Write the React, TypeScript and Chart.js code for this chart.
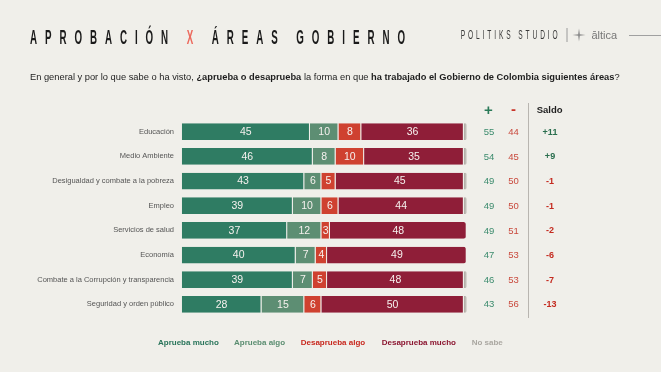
import React, { useEffect, useRef } from 'react';
import { Chart, registerables } from 'chart.js';

Chart.register(...registerables);

const categories = [
  'Educación',
  'Medio Ambiente',
  'Desigualdad y combate a la pobreza',
  'Empleo',
  'Servicios de salud',
  'Economía',
  'Combate a la Corrupción y transparencia',
  'Seguridad y orden público',
];
const apruebaMucho = [45, 46, 43, 39, 37, 40, 39, 28];
const apruebaAlgo = [10, 8, 6, 10, 12, 7, 7, 15];
const desapruebaAlgo = [8, 10, 5, 6, 3, 4, 5, 6];
const desapruebaMucho = [36, 35, 45, 44, 48, 49, 48, 50];
const noSabe = [1, 1, 1, 1, 0, 0, 1, 1];
const totalAprueba = [55, 54, 49, 49, 49, 47, 46, 43];
const totalDesaprueba = [44, 45, 50, 50, 51, 53, 53, 56];
const saldo = ['+11', '+9', '-1', '-1', '-2', '-6', '-7', '-13'];
const seriesNames = ['Aprueba mucho', 'Aprueba algo', 'Desaprueba algo', 'Desaprueba mucho', 'No sabe'];

const barColors = ['#2f7c63', '#5d8e73', '#cf4130', '#8f1e38', '#b3afa8'];
const legendColors = ['#28745a', '#5a8d70', '#c8281e', '#8b1530', '#aaa7a1'];
const BG = '#f0efea';
const SANS = '"Liberation Sans", Arial, sans-serif';

function drawSpacedScaled(
  ctx: CanvasRenderingContext2D,
  text: string,
  x: number,
  y: number,
  targetWidth: number,
  sx: number,
  colors: (i: number) => string
) {
  const chars = [...text];
  const widths = chars.map((c) => ctx.measureText(c).width * sx);
  const total = widths.reduce((a, b) => a + b, 0);
  const gap = (targetWidth - total) / (chars.length - 1);
  let cx = x;
  chars.forEach((c, i) => {
    ctx.save();
    ctx.translate(cx, y);
    ctx.scale(sx, 1);
    ctx.fillStyle = colors(i);
    ctx.fillText(c, 0, 0);
    ctx.restore();
    cx += widths[i] + gap;
  });
}

const decorPlugin = {
  id: 'decor',
  beforeDraw(chart: any) {
    const ctx = chart.ctx as CanvasRenderingContext2D;
    ctx.save();
    ctx.fillStyle = BG;
    ctx.fillRect(0, 0, chart.width, chart.height);
    ctx.restore();
  },
  afterDatasetsDraw(chart: any) {
    const ctx = chart.ctx as CanvasRenderingContext2D;
    const data = [apruebaMucho, apruebaAlgo, desapruebaAlgo, desapruebaMucho];
    ctx.save();
    ctx.font = `10.5px ${SANS}`;
    ctx.fillStyle = '#f6f1ee';
    ctx.textAlign = 'center';
    ctx.textBaseline = 'middle';
    data.forEach((arr, d) => {
      const meta = chart.getDatasetMeta(d);
      meta.data.forEach((bar: any, i: number) => {
        const v = arr[i];
        if (!v) return;
        const p = bar.getProps(['x', 'base', 'y'], true);
        ctx.fillText(String(v), (p.x + p.base) / 2, p.y + 0.5);
      });
    });
    ctx.restore();
  },
  afterDraw(chart: any) {
    const ctx = chart.ctx as CanvasRenderingContext2D;
    const yScale = chart.scales.y;
    ctx.save();

    // Title
    ctx.textBaseline = 'alphabetic';
    ctx.textAlign = 'left';
    ctx.font = `bold 19.5px ${SANS}`;
    const title = 'APROBACIÓN X ÁREAS GOBIERNO';
    drawSpacedScaled(ctx, title, 30, 43.5, 375, 0.5, (i) => (i === 11 ? '#ec6a5e' : '#1a1a1a'));

    // Logo
    ctx.font = `12px ${SANS}`;
    drawSpacedScaled(ctx, 'POLITIKS STUDIO', 460.7, 38.5, 97, 0.55, () => '#3a3a3a');
    ctx.strokeStyle = '#9a9a9a';
    ctx.lineWidth = 1;
    ctx.beginPath();
    ctx.moveTo(567, 28);
    ctx.lineTo(567, 42);
    ctx.stroke();
    // star
    const sx = 579, sy = 35, r = 6.5, ri = 1.2;
    ctx.fillStyle = '#8a8a8a';
    ctx.beginPath();
    for (let k = 0; k < 8; k++) {
      const ang = (k * Math.PI) / 4 - Math.PI / 2;
      const rr = k % 2 === 0 ? r : ri;
      const px = sx + rr * Math.cos(ang);
      const py = sy + rr * Math.sin(ang);
      if (k === 0) ctx.moveTo(px, py);
      else ctx.lineTo(px, py);
    }
    ctx.closePath();
    ctx.fill();
    ctx.font = `11px ${SANS}`;
    ctx.fillStyle = '#777';
    ctx.fillText('āltica', 591.5, 39);
    ctx.strokeStyle = '#a0a0a0';
    ctx.beginPath();
    ctx.moveTo(629, 35.5);
    ctx.lineTo(661, 35.5);
    ctx.stroke();

    // Subtitle
    const segs: [string, boolean][] = [
      ['En general y por lo que sabe o ha visto, ', false],
      ['¿aprueba o desaprueba', true],
      [' la forma en que ', false],
      ['ha trabajado el Gobierno de Colombia siguientes áreas', true],
      ['?', false],
    ];
    const base = 10;
    let tw = 0;
    segs.forEach(([t, b]) => {
      ctx.font = `${b ? 'bold ' : ''}${base}px ${SANS}`;
      tw += ctx.measureText(t).width;
    });
    const fs = (base * 590) / tw;
    let cx = 30;
    ctx.fillStyle = '#1e1e1e';
    segs.forEach(([t, b]) => {
      ctx.font = `${b ? 'bold ' : ''}${fs}px ${SANS}`;
      ctx.fillText(t, cx, 79.5);
      cx += ctx.measureText(t).width;
    });

    // Right header
    ctx.textAlign = 'center';
    ctx.textBaseline = 'middle';
    ctx.font = `bold 15px ${SANS}`;
    ctx.fillStyle = '#2a7a58';
    ctx.fillText('+', 488.5, 111);
    ctx.fillStyle = '#c9352a';
    ctx.fillText('-', 513.5, 110);
    ctx.font = `bold 9.5px ${SANS}`;
    ctx.fillStyle = '#1e1e1e';
    ctx.textAlign = 'left';
    ctx.fillText('Saldo', 536.7, 110);

    ctx.strokeStyle = '#b8b5b0';
    ctx.lineWidth = 1;
    ctx.beginPath();
    ctx.moveTo(528.5, 103);
    ctx.lineTo(528.5, 318);
    ctx.stroke();

    // Right columns
    ctx.textAlign = 'center';
    categories.forEach((_, i) => {
      const y = yScale.getPixelForValue(i) + 0.5;
      ctx.font = `9.5px ${SANS}`;
      ctx.fillStyle = '#3b8b6d';
      ctx.fillText(String(totalAprueba[i]), 489, y);
      ctx.fillStyle = '#c9493d';
      ctx.fillText(String(totalDesaprueba[i]), 513.5, y);
      ctx.font = `bold 9px ${SANS}`;
      ctx.fillStyle = saldo[i].startsWith('+') ? '#2a6e4e' : '#c42a1f';
      ctx.fillText(saldo[i], 550, y);
    });

    // Legend
    ctx.textAlign = 'left';
    ctx.font = `bold 8px ${SANS}`;
    const starts = [158, 234, 300.7, 381.7, 471.7];
    seriesNames.forEach((n, i) => {
      ctx.fillStyle = legendColors[i];
      ctx.fillText(n, starts[i], 343);
    });

    ctx.restore();
  },
};

export default function App() {
  const ref = useRef<HTMLCanvasElement | null>(null);
  useEffect(() => {
    document.body.style.margin = '0';
    document.body.style.background = BG;
    const canvas = ref.current!;
    const allData = [apruebaMucho, apruebaAlgo, desapruebaAlgo, desapruebaMucho, noSabe];
    const chart = new Chart(canvas, {
      type: 'bar',
      data: {
        labels: categories,
        datasets: seriesNames.map((name, d) => ({
          label: name,
          data: allData[d],
          backgroundColor: barColors[d],
          borderColor: d === 4 ? '#a9a59e' : 'rgba(240,239,234,0.45)',
          borderWidth: { top: 0, bottom: 0, left: 0, right: 1 },
          borderSkipped: 'start',
          borderRadius: (c: any) => {
            const i = c.dataIndex;
            const isLast = d === 4 || (d === 3 && !noSabe[i]);
            const r = isLast ? 3 : 0;
            return { topLeft: 0, bottomLeft: 0, topRight: r, bottomRight: r };
          },
          categoryPercentage: 1,
          barPercentage: 0.68,
        })),
      },
      options: {
        indexAxis: 'y',
        responsive: false,
        maintainAspectRatio: false,
        animation: false,
        layout: { padding: { top: 119.4, bottom: 372 - 316.7, left: 0, right: 661 - 466.7 } },
        scales: {
          x: { stacked: true, min: 0, max: 100, display: false },
          y: {
            stacked: true,
            grid: { display: false, drawTicks: false },
            border: { display: false },
            ticks: { color: '#555', font: { family: SANS, size: 7.5 }, padding: 7.7 },
            afterFit: (s: any) => {
              s.width = 181.7;
            },
          },
        },
        plugins: { legend: { display: false }, tooltip: { enabled: false } },
      },
      plugins: [decorPlugin],
    } as any);
    return () => chart.destroy();
  }, []);
  return (
    <div style={{ position: 'absolute', left: 0, top: 0, width: 661, height: 372, background: BG }}>
      <canvas ref={ref} width={661} height={372} style={{ display: 'block', width: 661, height: 372 }} />
    </div>
  );
}
